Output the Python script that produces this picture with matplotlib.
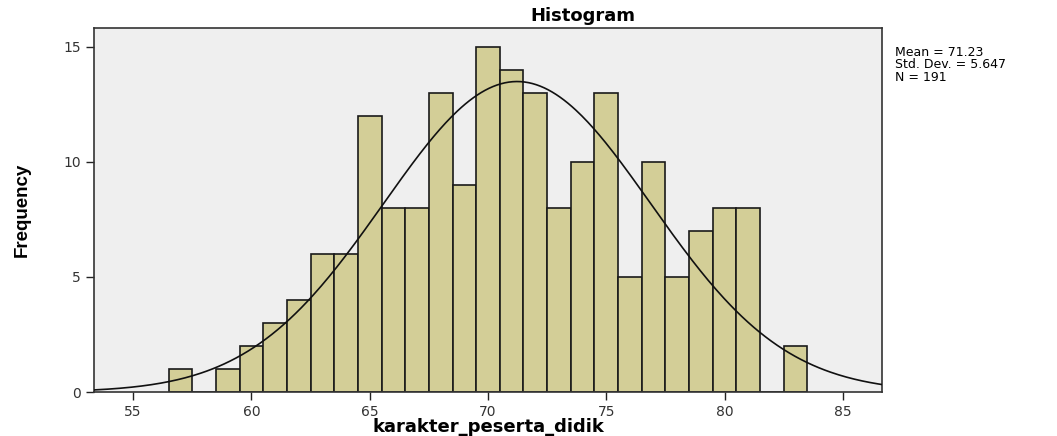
import numpy as np
import matplotlib

matplotlib.use("Agg")
import matplotlib.pyplot as plt

# histogram counts, one bin per integer score
bin_centers = [57, 58, 59, 60, 61, 62, 63, 64, 65, 66, 67, 68, 69, 70,
               71, 72, 73, 74, 75, 76, 77, 78, 79, 80, 81, 82, 83]
counts = [1, 0, 1, 2, 3, 4, 6, 6, 12, 8, 8, 13, 9, 15,
          14, 13, 8, 10, 13, 5, 10, 5, 7, 8, 8, 0, 2]
mean = 71.23
std_dev = 5.647
n_total = 191
x_ticks = [55, 60, 65, 70, 75, 80, 85]
y_ticks = [0, 5, 10, 15]

fig = plt.figure(figsize=(10.57, 4.36), dpi=100)
ax = fig.add_axes([94 / 1057, 1 - 392 / 436, (882 - 94) / 1057, (392 - 28) / 436])
ax.set_facecolor("#efefef")

ax.bar(bin_centers, counts, width=1.0, color="#d3ce97",
       edgecolor="#1a1a1a", linewidth=1.2, zorder=2)

xs = np.linspace(53.35, 86.65, 400)
pdf = n_total * 1.0 / (std_dev * np.sqrt(2 * np.pi)) * np.exp(-0.5 * ((xs - mean) / std_dev) ** 2)
ax.plot(xs, pdf, color="#111111", linewidth=1.2, zorder=3)

ax.set_xlim(53.35, 86.65)
ax.set_ylim(0, 15.82)
ax.set_xticks(x_ticks)
ax.set_yticks(y_ticks)
ax.tick_params(axis="both", labelsize=10, length=6, width=1, colors="#222222",
               labelcolor="#333333")
for s in ax.spines.values():
    s.set_linewidth(1.2)
    s.set_color("#333333")

fig.text(488 / 1057, 1 - 427 / 436, "karakter_peserta_didik", fontsize=13,
         fontweight="bold", ha="center", va="center")
fig.text(22 / 1057, 1 - 210 / 436, "Frequency", rotation=90, fontsize=13.5,
         fontweight="bold", ha="center", va="center",
         family=["Liberation Sans Narrow", "Liberation Sans", "DejaVu Sans"])
fig.text(583 / 1057, 1 - 16 / 436, "Histogram", fontsize=13,
         fontweight="bold", ha="center", va="center")
fig.text(895 / 1057, 1 - 46 / 436,
         f"Mean = {mean:.2f}\nStd. Dev. = {std_dev:.3f}\nN = {n_total}",
         fontsize=9, ha="left", va="top", linespacing=0.95)

fig.savefig("out.png", dpi=100, facecolor="white")
